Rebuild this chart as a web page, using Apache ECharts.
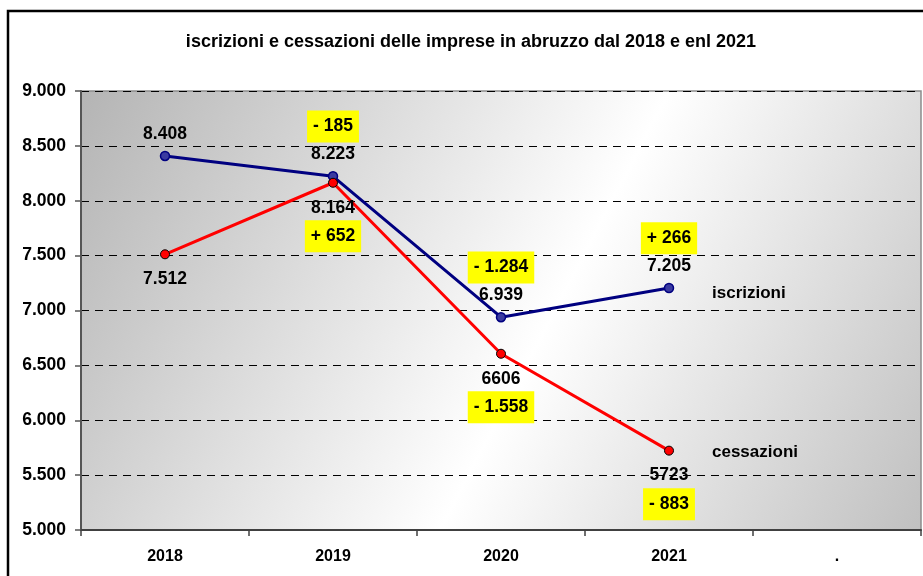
<!DOCTYPE html>
<html>
<head>
<meta charset="utf-8">
<script src="https://cdn.jsdelivr.net/npm/echarts@6/dist/echarts.min.js"></script>
<style>
  html, body { margin: 0; padding: 0; background: #fff; }
  #chart { width: 923px; height: 576px; }
</style>
</head>
<body>
<div id="chart"></div>
<script>
// dati
const anni = ['2018', '2019', '2020', '2021', '.'];
const iscrizioni = [8408, 8223, 6939, 7205];
const cessazioni = [7512, 8164, 6606, 5723];
const etichetteIscrizioni = ['8.408', '8.223', '6.939', '7.205'];
const etichetteCessazioni = ['7.512', '8.164', '6606', '5723'];
const variazioniIscrizioni = ['', '- 185', '- 1.284', '+ 266'];
const variazioniCessazioni = ['', '+ 652', '- 1.558', '- 883'];

const FONT = '"Liberation Sans", Arial, sans-serif';

const chart = echarts.init(document.getElementById('chart'), null, { renderer: 'canvas' });

// riquadro giallo delle variazioni
const box = {
  backgroundColor: '#ffff00',
  padding: [7, 6],
  fontSize: 17.5,
  fontWeight: 'bold',
  color: '#000',
  lineHeight: 17,
  fontFamily: FONT
};

chart.setOption({
  animation: false,
  backgroundColor: '#fff',
  textStyle: { fontFamily: FONT },
  title: {
    text: 'iscrizioni e cessazioni delle imprese in abruzzo dal 2018 e enl 2021',
    left: 466,
    textAlign: 'center',
    top: 28,
    textStyle: { fontSize: 18, fontWeight: 'bold', color: '#000', fontFamily: FONT }
  },
  graphic: [{
    type: 'rect',
    shape: { x: 8, y: 11, width: 940, height: 600 },
    style: { fill: 'none', stroke: '#000', lineWidth: 2.5 },
    z: 100
  }],
  grid: {
    left: 81, right: 2, top: 91, bottom: 46,
    show: true,
    borderColor: '#8c8c8c',
    borderWidth: 1.5,
    backgroundColor: {
      type: 'linear', x: 0, y: 0, x2: 1, y2: 1,
      colorStops: [
        { offset: 0, color: '#b4b4b4' },
        { offset: 0.55, color: '#ffffff' },
        { offset: 1, color: '#c0c0c0' }
      ]
    }
  },
  xAxis: {
    type: 'category',
    data: anni,
    boundaryGap: true,
    axisLine: { lineStyle: { color: '#404040', width: 2 } },
    axisTick: { show: true, length: 6, lineStyle: { color: '#404040', width: 1.5 } },
    axisLabel: { fontSize: 16, fontWeight: 'bold', color: '#000', margin: 19 },
    splitLine: { show: false }
  },
  yAxis: {
    type: 'value',
    min: 5000, max: 9000, interval: 500,
    axisLine: { show: true, lineStyle: { color: '#555', width: 2 } },
    axisTick: { show: true, length: 6, lineStyle: { color: '#555', width: 1.5 } },
    axisLabel: {
      fontSize: 17.5, fontWeight: 'bold', color: '#000', margin: 15,
      formatter: v => v.toLocaleString('de-DE', { minimumFractionDigits: 0 })
    },
    splitLine: { show: true, lineStyle: { color: '#000', type: [8, 6], width: 1 } }
  },
  series: [
    {
      name: 'iscrizioni',
      type: 'line',
      data: iscrizioni,
      symbol: 'circle',
      symbolSize: 9,
      lineStyle: { color: '#000080', width: 3 },
      itemStyle: { color: '#3a3aa0', borderColor: '#000080', borderWidth: 1.5 },
      label: {
        show: true,
        position: 'top',
        distance: -2,
        formatter: p => {
          const d = variazioniIscrizioni[p.dataIndex];
          return (d ? '{d|' + d + '}\n' : '') + '{v|' + etichetteIscrizioni[p.dataIndex] + '}';
        },
        rich: {
          v: { fontSize: 17.5, fontWeight: 'bold', color: '#000', lineHeight: 38, fontFamily: FONT },
          d: box
        }
      },
      endLabel: {
        show: true,
        formatter: 'iscrizioni',
        distance: 43,
        offset: [0, 5],
        fontSize: 17, fontWeight: 'bold', color: '#000'
      }
    },
    {
      name: 'cessazioni',
      type: 'line',
      data: cessazioni,
      symbol: 'circle',
      symbolSize: 9,
      lineStyle: { color: '#ff0000', width: 3 },
      itemStyle: { color: '#ff0000', borderColor: '#000', borderWidth: 1 },
      label: {
        show: true,
        position: 'bottom',
        distance: 0,
        formatter: p => {
          const d = variazioniCessazioni[p.dataIndex];
          return '{v|' + etichetteCessazioni[p.dataIndex] + '}' + (d ? '\n{d|' + d + '}' : '');
        },
        rich: {
          v: { fontSize: 17.5, fontWeight: 'bold', color: '#000', lineHeight: 40, fontFamily: FONT },
          d: box
        }
      },
      endLabel: {
        show: true,
        formatter: 'cessazioni',
        distance: 43,
        offset: [0, 2],
        fontSize: 17, fontWeight: 'bold', color: '#000'
      }
    }
  ]
});
</script>
</body>
</html>
